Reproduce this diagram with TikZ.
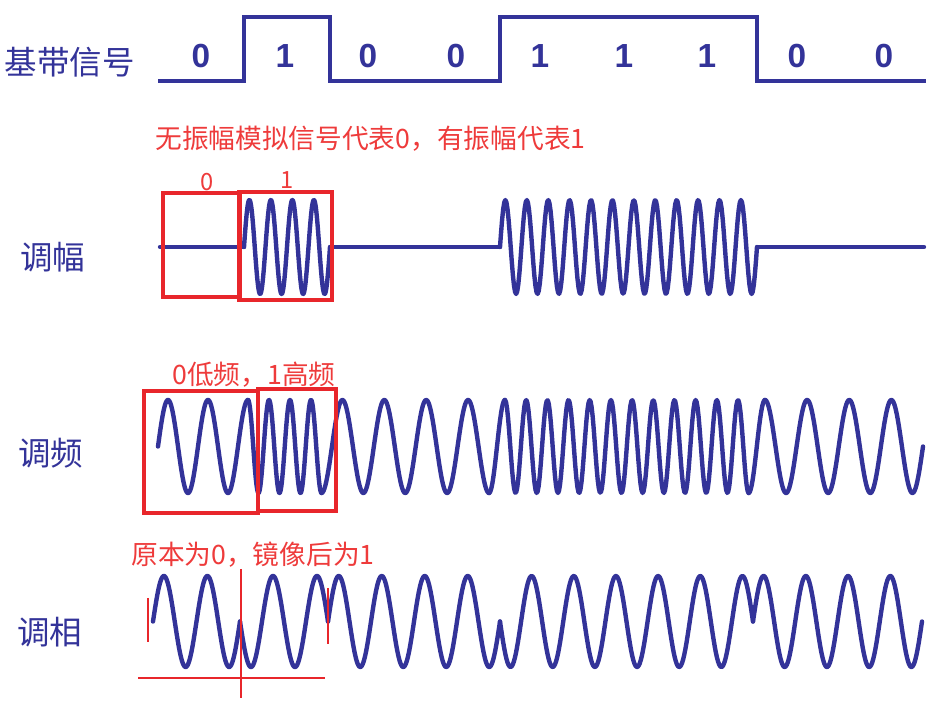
\documentclass[tikz,border=0pt]{standalone}
\usepackage{fontspec}
\setmainfont{Liberation Sans}
\newfontfamily\cjk{Noto Sans CJK SC}
\usepackage{tikz}
\definecolor{sigBlue}{HTML}{333399}
\definecolor{noteRed}{HTML}{EE3B3B}
\definecolor{boxRed}{HTML}{E8262B}

\begin{document}
\begin{tikzpicture}[x=0.02cm,y=-0.02cm,
  lbl/.style={text=sigBlue,font=\cjk\fontsize{18.5}{20}\selectfont,inner sep=0pt},
  bit/.style={text=sigBlue,font=\bfseries\fontsize{19}{21}\selectfont,inner sep=0pt},
  note/.style={text=noteRed,font=\cjk\fontsize{15.2}{17}\selectfont,inner sep=0pt,anchor=west},
  sig/.style={sigBlue,line width=2.2pt,line join=miter},
  wave/.style={sigBlue,line width=2.5pt,line cap=round,line join=round},
  box/.style={boxRed,line width=2pt},
  cut/.style={boxRed,line width=1.6pt}]
\useasboundingbox (0,0) rectangle (937,722);

\node[lbl] (base) at (70,62) {基带信号};
\draw[sig] (158,81) -- (244,81) -- (244,17) -- (330,17) -- (330,81) -- (500,81)
  -- (500,17) -- (757,17) -- (757,81) -- (926,81);
\foreach \bx/\b [count=\i] in {201/0,285/1,368/0,456/0,540/1,624/1,707/1,797/0,884/0}
  \node[bit] (b\i) at (\bx,56) {\b};

\node[lbl] (am) at (53,257) {调幅};
\node[note] (amnote) at (155,139) {无振幅模拟信号代表0，有振幅代表1};
\node[note,anchor=center,font=\cjk\fontsize{13.5}{15}\selectfont] (am0) at (207,182) {0};
\node[note,anchor=center,font=\cjk\fontsize{13.5}{15}\selectfont] (am1) at (287,180) {1};
\foreach \xa/\xb/\pa/\pb in {160/244/0/0,244/330/0/4,330/500/0/0,500/757/0/12,757/924/0/0}
  \draw[wave] plot[domain=\xa:\xb,samples=240]
    (\x,{247-47*sin(360*(\pa+(\pb-\pa)*(\x-\xa)/(\xb-\xa)))});
\draw[box] (163,193) rectangle (240,297);
\draw[box] (239,192) rectangle (332,300);

\node[lbl] (fm) at (51,453) {调频};
\node[note] (fmnote) at (172,375) {0低频，1高频};
\foreach \xa/\xb/\pa/\pb in {158/248/0/2.25,248/321.5/2.25/5.75,321.5/489/5.75/9.75,
    489/505/9.75/10.25,505/748.6/10.25/21.75,748.6/765/21.75/22.25,765/923/22.25/26}
  \draw[wave] plot[domain=\xa:\xb,samples=240]
    (\x,{446.5-46.5*sin(360*(\pa+(\pb-\pa)*(\x-\xa)/(\xb-\xa)))});
\draw[box] (144,391) rectangle (258,513);
\draw[box] (258,389) rectangle (336,511);

\node[lbl] (pm) at (50,632) {调相};
\node[note] (pmnote) at (131,555) {原本为0，镜像后为1};
\foreach \xa/\xb/\pa/\pb in {153/240/0/2,240/328/0.5/2.5,328/500/0/4,500/753/0.5/6.5,753/922/0/4}
  \draw[wave] plot[domain=\xa:\xb,samples=240]
    (\x,{621.5-45.5*sin(360*(\pa+(\pb-\pa)*(\x-\xa)/(\xb-\xa)))});
\draw[cut] (148,598) -- (148,642);
\draw[cut] (241,569) -- (241,698);
\draw[cut] (328,588) -- (328,644);
\draw[cut] (138,678) -- (325,678);
\end{tikzpicture}
\end{document}
